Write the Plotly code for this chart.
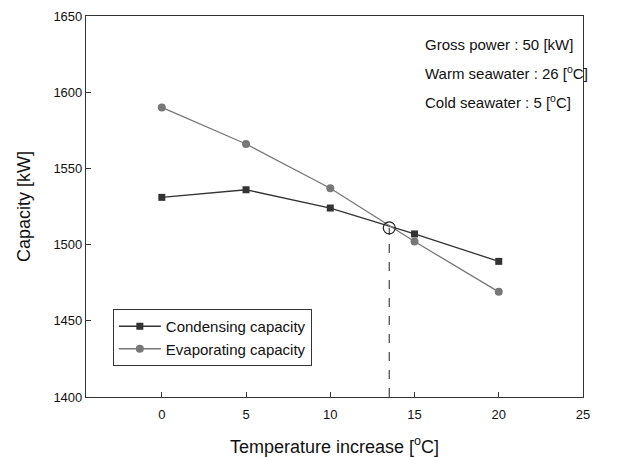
import plotly.graph_objects as go

temps = [0, 5, 10, 15, 20]
condensing = [1531, 1536, 1524, 1507, 1489]
evaporating = [1590, 1566, 1537, 1502, 1469]
cross_x = [13.5]
cross_y = [1511]
info_lines = ["Gross power : 50 [kW]", "Warm seawater : 26 [<sup>o</sup>C]", "Cold seawater : 5 [<sup>o</sup>C]"]
info_y = [1631.5, 1613, 1594]

FONT = "Liberation Sans, Arial, sans-serif"

fig = go.Figure()
fig.add_trace(go.Scatter(x=temps, y=condensing, mode="lines+markers", name="Condensing capacity",
                         line=dict(color="#333333", width=1.3),
                         marker=dict(symbol="square", size=7, color="#333333")))
fig.add_trace(go.Scatter(x=temps, y=evaporating, mode="lines+markers", name="Evaporating capacity",
                         line=dict(color="#777777", width=1.3),
                         marker=dict(symbol="circle", size=8, color="#777777")))
fig.add_trace(go.Scatter(x=[cross_x[0], cross_x[0]], y=[1400, cross_y[0]], mode="lines",
                         line=dict(color="#444444", width=1.2, dash="dash"), showlegend=False))
fig.add_trace(go.Scatter(x=cross_x, y=cross_y, mode="markers", showlegend=False,
                         marker=dict(symbol="circle-open", size=12, color="#222222", line=dict(width=1.2))))

for t, yy in zip(info_lines, info_y):
    fig.add_annotation(x=15.5, y=yy, text=t, showarrow=False, xanchor="left", yanchor="middle",
                       font=dict(size=15, color="#111111", family=FONT))

fig.update_layout(
    width=627, height=449,
    margin=dict(l=78, r=52, t=8, b=60, autoexpand=False),
    paper_bgcolor="white", plot_bgcolor="white",
    font=dict(family=FONT, color="#111111", size=13),
    legend=dict(x=0.054, y=0.231, xanchor="left", yanchor="top",
                bordercolor="#333333", borderwidth=1, bgcolor="white",
                font=dict(size=15), tracegroupgap=0, itemwidth=42),
    xaxis=dict(range=[-4.5, 25], tickvals=[0, 5, 10, 15, 20, 25], ticks="inside", ticklen=5,
               tickcolor="#333333", showgrid=False, zeroline=False, showline=True,
               linecolor="#333333", linewidth=1.2, mirror=True, automargin=False,
               ticklabelstandoff=5,
               title=dict(text="Temperature increase [<sup>o</sup>C]", font=dict(size=18), standoff=27),
               tickfont=dict(size=13)),
    yaxis=dict(range=[1400, 1650], tickvals=[1400, 1450, 1500, 1550, 1600, 1650], ticks="inside", ticklen=5,
               tickcolor="#333333", showgrid=False, zeroline=False, showline=True,
               linecolor="#333333", linewidth=1.2, mirror=True, automargin=False,
               title=dict(text="Capacity [kW]", font=dict(size=18), standoff=18),
               tickfont=dict(size=13)),
)

fig.write_html("out.html")
